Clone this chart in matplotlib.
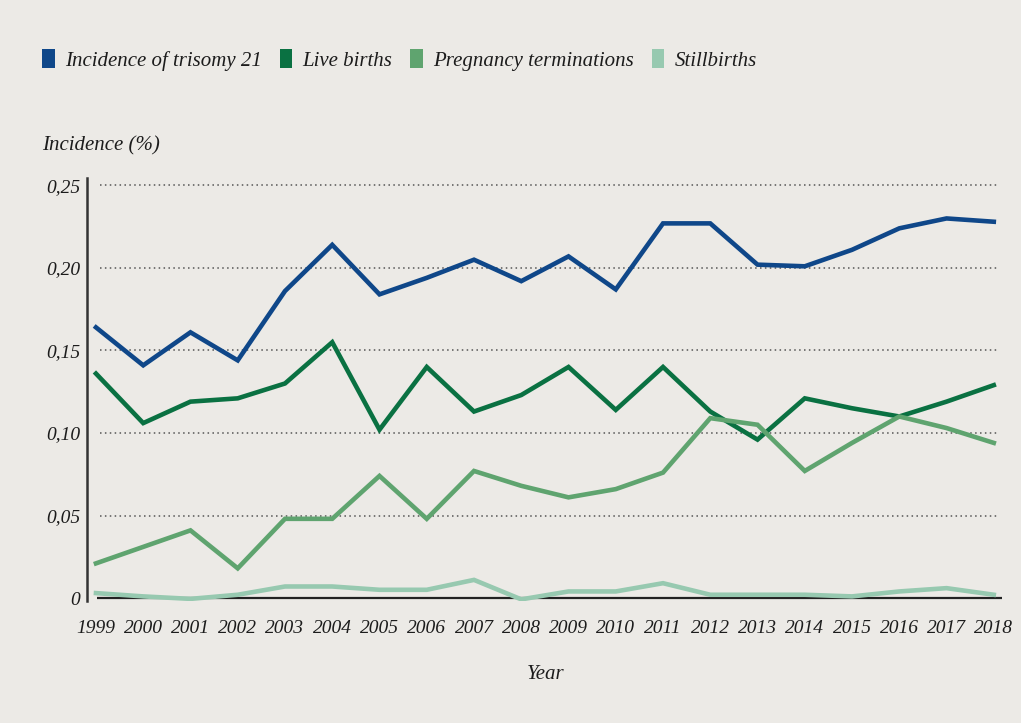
"""
Trisomy 21 incidence 1999-2018 by outcome.
Outputs: out.png
"""
import matplotlib.pyplot as plt
from matplotlib.patches import Patch

years = list(range(1999, 2019))

trisomy21 = [0.164, 0.141, 0.161, 0.144, 0.186, 0.214, 0.184, 0.194, 0.205, 0.192,
             0.207, 0.187, 0.227, 0.227, 0.202, 0.201, 0.211, 0.224, 0.230, 0.228]
live_births = [0.136, 0.106, 0.119, 0.121, 0.130, 0.155, 0.102, 0.140, 0.113, 0.123,
               0.140, 0.114, 0.140, 0.113, 0.096, 0.121, 0.115, 0.110, 0.119, 0.129]
terminations = [0.021, 0.031, 0.041, 0.018, 0.048, 0.048, 0.074, 0.048, 0.077, 0.068,
                0.061, 0.066, 0.076, 0.109, 0.105, 0.077, 0.094, 0.110, 0.103, 0.094]
stillbirths = [0.003, 0.001, -0.0005, 0.002, 0.007, 0.007, 0.005, 0.005, 0.011, -0.0008,
               0.004, 0.004, 0.009, 0.002, 0.002, 0.002, 0.001, 0.004, 0.006, 0.002]

labels = ['Incidence of trisomy 21', 'Live births', 'Pregnancy terminations', 'Stillbirths']
colors = ['#0f4789', '#0a7142', '#5fa46f', '#97c9b0']

y_ticks = [0, 0.05, 0.10, 0.15, 0.20, 0.25]
y_ticklabels = ['0', '0,05', '0,10', '0,15', '0,20', '0,25']

bg = '#eceae6'
txt = '#1c1c1c'
plt.rcParams['font.family'] = ['Liberation Serif', 'DejaVu Serif']
plt.rcParams['font.style'] = 'italic'

fig = plt.figure(figsize=(10.21, 7.23), dpi=100, facecolor=bg)
ax = fig.add_axes([0.0852, 0.1694, 0.8988, 0.5844], facecolor=bg)

ax.set_xlim(1998.81, 2018.23)
ax.set_ylim(-0.0015, 0.2545)

# dotted gridlines (not the zero line)
for t in y_ticks[1:]:
    ax.hlines(t, 1999.08, 2018.08, colors='#555555', linestyles=(0, (1, 2.2)), lw=1.1, zorder=1)
# baseline
ax.hlines(0, 1999.02, 2018.18, colors='#222222', lw=1.6, zorder=1)

for vals, lab, c in zip([trisomy21, live_births, terminations, stillbirths], labels, colors):
    ax.plot(years, vals, color=c, lw=3.3, solid_joinstyle='miter', zorder=3)

for s in ['top', 'right', 'bottom']:
    ax.spines[s].set_visible(False)
ax.spines['left'].set_color('#333333')
ax.spines['left'].set_linewidth(1.8)

ax.set_yticks(y_ticks)
ax.set_yticklabels(y_ticklabels, fontsize=14, color=txt)
ax.set_xticks(years)
ax.set_xticklabels([str(y) for y in years], fontsize=14, color=txt)
ax.tick_params(axis='both', length=0)
ax.tick_params(axis='y', pad=5)
ax.tick_params(axis='x', pad=14)

ax.set_xlabel('Year', fontsize=15, color=txt, labelpad=20)
fig.text(0.041, 0.798, 'Incidence (%)', fontsize=15, color=txt, ha='left', va='center')

handles = [Patch(facecolor=c, edgecolor='none') for c in colors]
fig.legend(handles, labels, loc='center left', bbox_to_anchor=(0.023, 0.917),
           ncol=4, frameon=False, fontsize=15, handlelength=0.6, handleheight=1.05,
           handletextpad=0.5, columnspacing=0.85, labelcolor=txt)

plt.savefig('out.png', dpi=100, facecolor=bg)
plt.close()
